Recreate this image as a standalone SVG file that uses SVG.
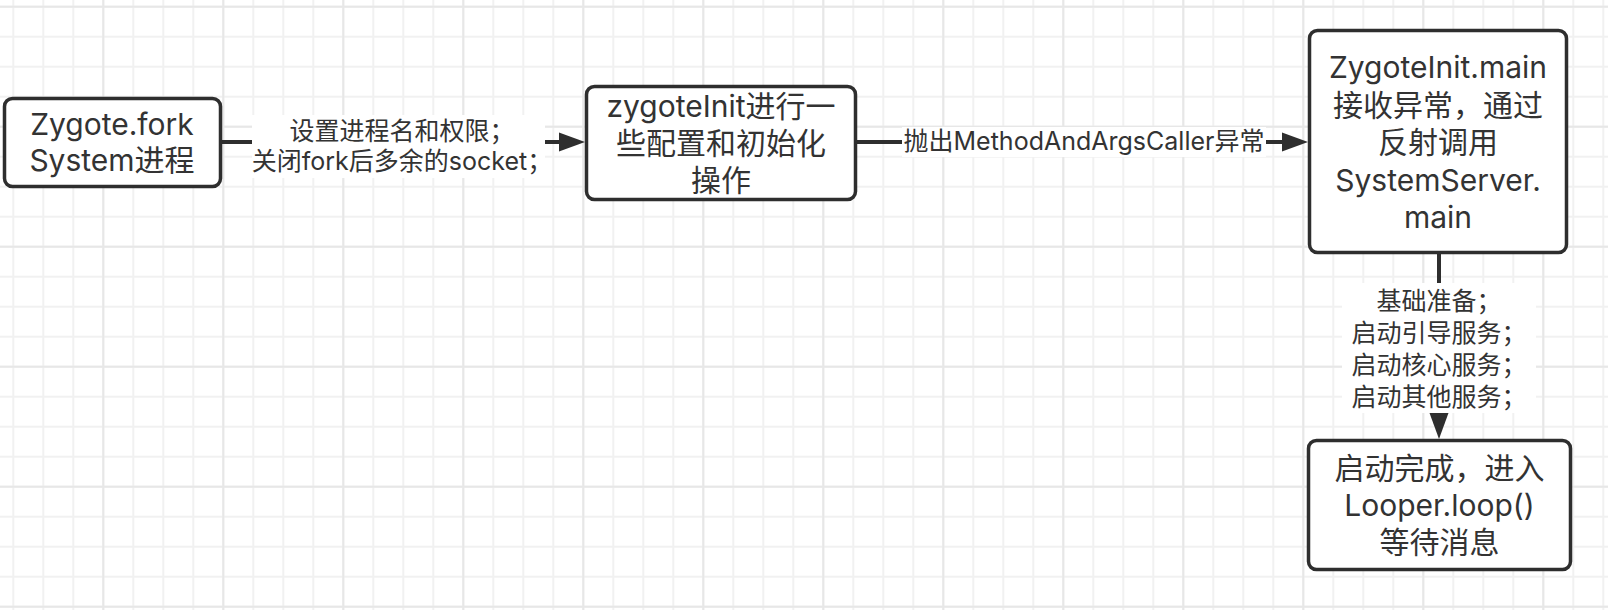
<svg xmlns="http://www.w3.org/2000/svg" width="1608" height="610" viewBox="0 0 1608 610">
<defs>
<pattern id="minor" width="30" height="30" patternUnits="userSpaceOnUse" x="12.3" y="5.7">
<rect x="0" y="0" width="30" height="2" fill="#f1f1f1"/>
<rect x="0" y="0" width="2" height="30" fill="#f1f1f1"/>
</pattern>
<pattern id="major" width="120" height="120" patternUnits="userSpaceOnUse" x="102.3" y="5.7">
<rect x="0" y="0" width="120" height="2" fill="#e7e7e7"/>
<rect x="0" y="0" width="2" height="120" fill="#e7e7e7"/>
</pattern>
<marker id="arrow" markerUnits="userSpaceOnUse" markerWidth="30" markerHeight="22" refX="0" refY="10" orient="auto">
<path d="M0,0.5 L26,10 L0,19.5 Z" fill="#2e2e2e"/>
</marker>
<style>
.box{fill:#fff;stroke:#2e2e2e;stroke-width:3.5}
.edge{fill:none;stroke:#2e2e2e;stroke-width:4}
.t{font-family:Inter,"Noto Sans CJK SC",sans-serif;font-size:30px;fill:#333;text-anchor:middle}
.l{font-family:Inter,"Noto Sans CJK SC",sans-serif;font-size:25px;fill:#333;text-anchor:middle}
.bg{fill:#fff}
</style>
</defs>
<rect width="1608" height="610" fill="#fff"/>
<rect width="1608" height="610" fill="url(#minor)"/>
<rect width="1608" height="610" fill="url(#major)"/>

<g id="connectors">
<path class="edge" d="M221,142 H559" marker-end="url(#arrow)"/>
<path class="edge" d="M857,142 H1282" marker-end="url(#arrow)"/>
<path class="edge" d="M1439,254 V413" marker-end="url(#arrow)"/>
<g id="label1">
<rect class="bg" x="252" y="115" width="293" height="63"/>
<text class="l" x="402" y="140">设置进程名和权限；</text>
<text class="l" x="402" y="170">关闭fork后多余的socket；</text>
</g>
<g id="label2">
<rect class="bg" x="902" y="127" width="364" height="30"/>
<text class="l" x="1084" y="150">抛出MethodAndArgsCaller异常</text>
</g>
<g id="label3">
<rect class="bg" x="1342" y="283" width="194" height="130"/>
<text class="l" x="1439" y="310">基础准备；</text>
<text class="l" x="1439" y="342">启动引导服务；</text>
<text class="l" x="1439" y="374">启动核心服务；</text>
<text class="l" x="1439" y="406">启动其他服务；</text>
</g>
</g>

<g id="node-fork">
<rect class="box" x="4.5" y="98.5" width="216" height="88" rx="8"/>
<text class="t" x="112" y="135">Zygote.fork</text>
<text class="t" x="112" y="171">System进程</text>
</g>
<g id="node-zygoteinit">
<rect class="box" x="586.5" y="86.5" width="269" height="113" rx="8"/>
<text class="t" x="721" y="117">zygoteInit进行一</text>
<text class="t" x="721" y="154">些配置和初始化</text>
<text class="t" x="721" y="191">操作</text>
</g>
<g id="node-main">
<rect class="box" x="1309.5" y="30.5" width="257" height="222" rx="8"/>
<text class="t" x="1438" y="78">ZygoteInit.main</text>
<text class="t" x="1438" y="115.5">接收异常，通过</text>
<text class="t" x="1438" y="153">反射调用</text>
<text class="t" x="1438" y="190.5">SystemServer.</text>
<text class="t" x="1438" y="228">main</text>
</g>
<g id="node-loop">
<rect class="box" x="1308.5" y="440.5" width="262" height="129" rx="8"/>
<text class="t" x="1439.5" y="479">启动完成，进入</text>
<text class="t" x="1439.5" y="516">Looper.loop()</text>
<text class="t" x="1439.5" y="553">等待消息</text>
</g>
</svg>
